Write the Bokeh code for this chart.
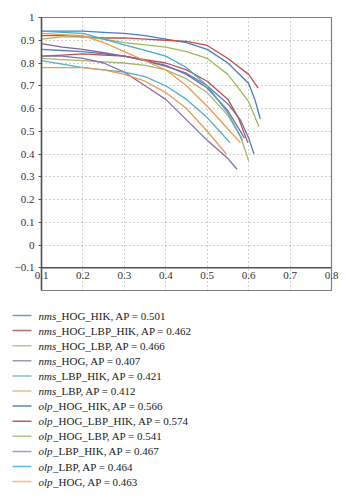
from bokeh.plotting import figure
from bokeh.models import Range1d, FixedTicker, Span
from bokeh.core.properties import value
from bokeh.embed import file_html
from bokeh.resources import INLINE

# ---------------- data ----------------
prefixes = ["nms", "nms", "nms", "nms", "nms", "nms",
            "olp", "olp", "olp", "olp", "olp", "olp"]
suffixes = ["_HOG_HIK", "_HOG_LBP_HIK", "_HOG_LBP", "_HOG", "_LBP_HIK", "_LBP",
            "_HOG_HIK", "_HOG_LBP_HIK", "_HOG_LBP", "_LBP_HIK", "_LBP", "_HOG"]
ap_values = [0.501, 0.462, 0.466, 0.407, 0.421, 0.412,
             0.566, 0.574, 0.541, 0.467, 0.464, 0.463]

line_colors = ["#5a7fb3", "#b5524f", "#a3b86a", "#8a6fa6", "#55aec6", "#eb9a55",
               "#4a7ebb", "#c0504d", "#9bbb59", "#8064a2", "#4bacc6", "#f79646"]
legend_colors = ["#7e98bd", "#bb6a68", "#bcc49c", "#a596bc", "#86c0d0", "#e9bb95",
                 "#5a88c0", "#c65a58", "#acca86", "#a79acb", "#62b9dc", "#f2bf8c"]

recall = [
    [0.10, 0.15, 0.20, 0.25, 0.30, 0.35, 0.40, 0.45, 0.50, 0.55, 0.58, 0.60, 0.613],
    [0.10, 0.15, 0.20, 0.25, 0.30, 0.35, 0.40, 0.45, 0.50, 0.55, 0.575, 0.598],
    [0.10, 0.15, 0.20, 0.25, 0.30, 0.35, 0.40, 0.45, 0.50, 0.55, 0.58, 0.60],
    [0.10, 0.15, 0.20, 0.25, 0.30, 0.35, 0.40, 0.45, 0.50, 0.55, 0.572],
    [0.10, 0.15, 0.20, 0.25, 0.30, 0.35, 0.40, 0.45, 0.50, 0.53, 0.555],
    [0.10, 0.15, 0.20, 0.25, 0.30, 0.35, 0.40, 0.45, 0.50, 0.546],
    [0.10, 0.15, 0.20, 0.25, 0.30, 0.35, 0.40, 0.45, 0.50, 0.55, 0.60, 0.615, 0.628],
    [0.10, 0.15, 0.20, 0.25, 0.30, 0.35, 0.40, 0.45, 0.50, 0.55, 0.60, 0.623],
    [0.10, 0.15, 0.20, 0.25, 0.30, 0.35, 0.40, 0.45, 0.50, 0.55, 0.60, 0.625],
    [0.10, 0.15, 0.20, 0.25, 0.30, 0.35, 0.40, 0.45, 0.50, 0.55, 0.59],
    [0.10, 0.15, 0.20, 0.25, 0.30, 0.35, 0.40, 0.45, 0.50, 0.55, 0.585],
    [0.10, 0.15, 0.20, 0.25, 0.30, 0.35, 0.40, 0.45, 0.50, 0.55, 0.58],
]
precision = [
    [0.86, 0.855, 0.85, 0.84, 0.83, 0.81, 0.785, 0.755, 0.70, 0.62, 0.55, 0.47, 0.40],
    [0.83, 0.835, 0.84, 0.835, 0.83, 0.815, 0.80, 0.77, 0.72, 0.64, 0.56, 0.45],
    [0.82, 0.815, 0.81, 0.805, 0.80, 0.79, 0.77, 0.73, 0.67, 0.57, 0.48, 0.37],
    [0.83, 0.83, 0.82, 0.80, 0.76, 0.70, 0.64, 0.55, 0.46, 0.38, 0.333],
    [0.81, 0.795, 0.78, 0.77, 0.76, 0.74, 0.70, 0.64, 0.56, 0.50, 0.45],
    [0.78, 0.78, 0.78, 0.77, 0.75, 0.72, 0.67, 0.60, 0.50, 0.40],
    [0.94, 0.94, 0.94, 0.935, 0.93, 0.92, 0.905, 0.89, 0.86, 0.80, 0.71, 0.64, 0.555],
    [0.92, 0.92, 0.915, 0.91, 0.91, 0.905, 0.90, 0.895, 0.877, 0.82, 0.75, 0.69],
    [0.905, 0.915, 0.915, 0.905, 0.89, 0.88, 0.87, 0.85, 0.82, 0.75, 0.63, 0.52],
    [0.885, 0.87, 0.86, 0.845, 0.83, 0.81, 0.79, 0.75, 0.69, 0.59, 0.47],
    [0.94, 0.935, 0.93, 0.905, 0.88, 0.855, 0.83, 0.78, 0.70, 0.58, 0.46],
    [0.93, 0.925, 0.92, 0.89, 0.85, 0.81, 0.77, 0.70, 0.61, 0.51, 0.45],
]

x_ticks = [0.1, 0.2, 0.3, 0.4, 0.5, 0.6, 0.7, 0.8]
x_tick_labels = ["0.1", "0.2", "0.3", "0.4", "0.5", "0.6", "0.7", "0.8"]
y_ticks = [-0.1, 0.0, 0.1, 0.2, 0.3, 0.4, 0.5, 0.6, 0.7, 0.8, 0.9, 1.0]
y_tick_labels = ["\u22120.1", "0", "0.1", "0.2", "0.3", "0.4", "0.5", "0.6", "0.7", "0.8", "0.9", "1"]
x_grid = [0.2, 0.3, 0.4, 0.5, 0.6, 0.7]
y_grid = [0.0, 0.1, 0.2, 0.3, 0.4, 0.5, 0.6, 0.7, 0.8, 0.9]
x_axis_at = -0.1

FONT = "Liberation Serif"
TXT = "#333333"

# ---------------- chart ----------------
p = figure(width=350, height=300, x_range=Range1d(0.1, 0.8), y_range=Range1d(-0.2, 1.0),
           output_backend="svg", toolbar_location=None,
           min_border_left=41, min_border_right=19, min_border_top=17, min_border_bottom=10)
p.background_fill_color = "white"
p.border_fill_color = "white"
p.outline_line_color = "#808080"
p.outline_line_width = 1.2

p.xgrid.ticker = FixedTicker(ticks=x_grid)
p.ygrid.ticker = FixedTicker(ticks=y_grid)
p.grid.grid_line_color = "#a0a0a0"
p.grid.grid_line_dash = "1 3"
p.grid.grid_line_width = 1

for xs, ys, c in zip(recall, precision, line_colors):
    p.line(xs, ys, line_color=c, line_width=1.3)

# horizontal axis line crossing at y = -0.1
p.add_layout(Span(location=x_axis_at, dimension="width", line_color="#505050", line_width=1.5))

# x tick labels: drawn by the bottom axis, pulled up to sit just under the -0.1 line
xa = p.xaxis[0]
xa.ticker = FixedTicker(ticks=x_ticks)
xa.major_label_overrides = dict(zip(x_ticks, x_tick_labels))
xa.minor_tick_line_color = None
xa.major_tick_in = 0
xa.major_tick_out = 0
xa.axis_line_color = "#808080"
xa.axis_line_width = 1.2
xa.major_label_text_font = FONT
xa.major_label_text_font_size = "11px"
xa.major_label_text_color = TXT
xa.major_label_standoff = -19

ya = p.yaxis[0]
ya.ticker = FixedTicker(ticks=y_ticks)
ya.major_label_overrides = dict(zip(y_ticks, y_tick_labels))
ya.minor_tick_line_color = None
ya.major_tick_in = 0
ya.major_tick_out = 3
ya.axis_line_color = "#505050"
ya.axis_line_width = 1.5
ya.major_tick_line_color = "#505050"
ya.major_label_text_font = FONT
ya.major_label_text_font_size = "11px"
ya.major_label_text_color = TXT
ya.major_label_standoff = 4

# ---------------- legend ----------------
q = figure(width=350, height=200, x_range=Range1d(0, 350), y_range=Range1d(200, 0),
           output_backend="svg", toolbar_location=None,
           x_axis_location=None, y_axis_location=None,
           min_border_left=0, min_border_right=0, min_border_top=0, min_border_bottom=0)
q.grid.visible = False
q.outline_line_color = None
q.background_fill_color = "white"
q.border_fill_color = "white"

row_y = [15 + i * 15.1 for i in range(len(suffixes))]
prefix_w = {"nms": 17.5, "olp": 14.5}
q.segment(x0=[12] * len(row_y), y0=row_y, x1=[31] * len(row_y), y1=row_y,
          line_color=legend_colors, line_width=1.5)
q.text(x=[38] * len(row_y), y=row_y, text=prefixes,
       text_font=value(FONT), text_font_style="italic", text_font_size="11px",
       text_color="#222222", text_baseline="middle", text_align="left")
q.text(x=[38 + prefix_w[pf] for pf in prefixes], y=row_y,
       text=[f"{s}, AP = {a:.3f}" for s, a in zip(suffixes, ap_values)],
       text_font=value(FONT), text_font_size="11px",
       text_color="#222222", text_baseline="middle", text_align="left")

open("out.html", "w").write(file_html([p, q], INLINE))
